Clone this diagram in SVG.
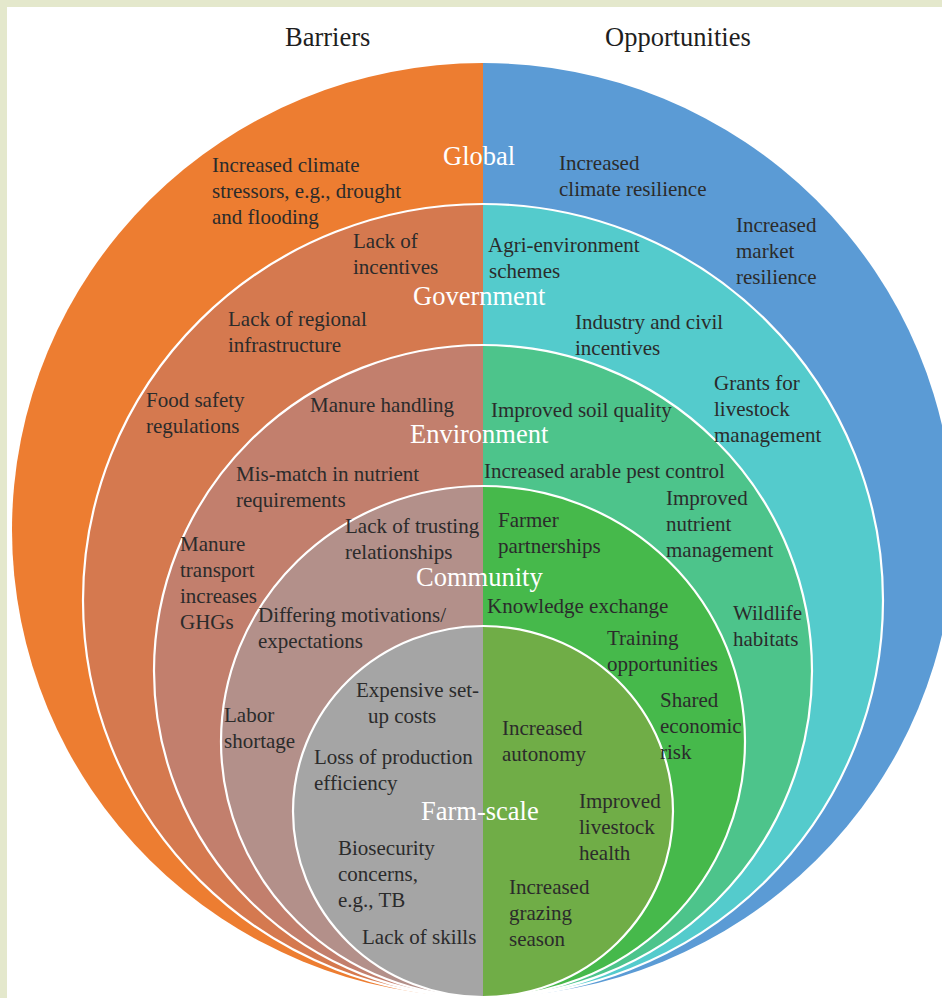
<svg xmlns="http://www.w3.org/2000/svg" width="942" height="998" viewBox="0 0 942 998">
<style>
.t{font-family:"Liberation Serif","Times New Roman",serif;font-size:21px;fill:#2b2b2b}
.h{font-family:"Liberation Serif","Times New Roman",serif;font-size:26.5px;fill:#1e1e1e}
.w{font-family:"Liberation Serif","Times New Roman",serif;font-size:26.5px;fill:#ffffff}
.ring{stroke:#ffffff;stroke-width:2.2}
</style>
<defs>
<clipPath id="L"><rect x="0" y="0" width="483" height="998"/></clipPath>
<clipPath id="R"><rect x="483" y="0" width="459" height="998"/></clipPath>
</defs>
<rect x="0" y="0" width="942" height="998" fill="#E4E8CC"/>
<rect x="7" y="7" width="935" height="991" fill="#ffffff"/>
<g id="headers">
<text class="h" x="285" y="46">Barriers</text>
<text class="h" x="605" y="46">Opportunities</text>
</g>
<g id="global">
<ellipse cx="483" cy="530" rx="471" ry="467" fill="#ED7D31" clip-path="url(#L)"/>
<ellipse cx="483" cy="530" rx="471" ry="467" fill="#5B9BD5" clip-path="url(#R)"/>
</g>
<g id="government">
<ellipse cx="483" cy="600.5" rx="400" ry="396.5" fill="#D5794F" clip-path="url(#L)"/>
<ellipse cx="483" cy="600.5" rx="400" ry="396.5" fill="#54CBCC" clip-path="url(#R)"/>
<ellipse class="ring" cx="483" cy="600.5" rx="400" ry="396.5" fill="none"/>
</g>
<g id="environment">
<ellipse cx="483" cy="671" rx="329" ry="326" fill="#C27F6D" clip-path="url(#L)"/>
<ellipse cx="483" cy="671" rx="329" ry="326" fill="#4DC48B" clip-path="url(#R)"/>
<ellipse class="ring" cx="483" cy="671" rx="329" ry="326" fill="none"/>
</g>
<g id="community">
<ellipse cx="483" cy="741.5" rx="262" ry="255.5" fill="#B3908A" clip-path="url(#L)"/>
<ellipse cx="483" cy="741.5" rx="262" ry="255.5" fill="#46B94B" clip-path="url(#R)"/>
<ellipse class="ring" cx="483" cy="741.5" rx="262" ry="255.5" fill="none"/>
</g>
<g id="farm">
<ellipse cx="483" cy="811.5" rx="190" ry="185.5" fill="#A5A5A5" clip-path="url(#L)"/>
<ellipse cx="483" cy="811.5" rx="190" ry="185.5" fill="#70AD47" clip-path="url(#R)"/>
<ellipse class="ring" cx="483" cy="811.5" rx="190" ry="185.5" fill="none"/>
</g>
<g id="level-labels">
<text class="w" x="443" y="165">Global</text>
<text class="w" x="413" y="305">Government</text>
<text class="w" x="410" y="443">Environment</text>
<text class="w" x="416" y="586">Community</text>
<text class="w" x="421" y="820">Farm-scale</text>
</g>
<g id="barriers">
<text class="t" x="212" y="172">Increased climate</text>
<text class="t" x="212" y="198">stressors, e.g., drought</text>
<text class="t" x="212" y="224">and flooding</text>
<text class="t" x="353" y="248">Lack of</text>
<text class="t" x="353" y="274">incentives</text>
<text class="t" x="228" y="326">Lack of regional</text>
<text class="t" x="228" y="352">infrastructure</text>
<text class="t" x="146" y="407">Food safety</text>
<text class="t" x="146" y="433">regulations</text>
<text class="t" x="310" y="412">Manure handling</text>
<text class="t" x="236" y="481">Mis-match in nutrient</text>
<text class="t" x="236" y="507">requirements</text>
<text class="t" x="180" y="551">Manure</text>
<text class="t" x="180" y="577">transport</text>
<text class="t" x="180" y="603">increases</text>
<text class="t" x="180" y="629">GHGs</text>
<text class="t" x="345" y="533">Lack of trusting</text>
<text class="t" x="345" y="559">relationships</text>
<text class="t" x="258" y="622">Differing motivations/</text>
<text class="t" x="258" y="648">expectations</text>
<text class="t" x="224" y="722">Labor</text>
<text class="t" x="224" y="748">shortage</text>
<text class="t" x="356" y="697">Expensive set-</text>
<text class="t" x="368" y="723">up costs</text>
<text class="t" x="314" y="764">Loss of production</text>
<text class="t" x="314" y="790">efficiency</text>
<text class="t" x="338" y="855">Biosecurity</text>
<text class="t" x="338" y="881">concerns,</text>
<text class="t" x="338" y="907">e.g., TB</text>
<text class="t" x="362" y="944">Lack of skills</text>
</g>
<g id="opportunities">
<text class="t" x="559" y="170">Increased</text>
<text class="t" x="559" y="196">climate resilience</text>
<text class="t" x="736" y="232">Increased</text>
<text class="t" x="736" y="258">market</text>
<text class="t" x="736" y="284">resilience</text>
<text class="t" x="488" y="252">Agri-environment</text>
<text class="t" x="489" y="278">schemes</text>
<text class="t" x="575" y="329">Industry and civil</text>
<text class="t" x="575" y="355">incentives</text>
<text class="t" x="714" y="390">Grants for</text>
<text class="t" x="714" y="416">livestock</text>
<text class="t" x="714" y="442">management</text>
<text class="t" x="491" y="417">Improved soil quality</text>
<text class="t" x="484" y="478">Increased arable pest control</text>
<text class="t" x="666" y="505">Improved</text>
<text class="t" x="666" y="531">nutrient</text>
<text class="t" x="666" y="557">management</text>
<text class="t" x="733" y="620">Wildlife</text>
<text class="t" x="733" y="646">habitats</text>
<text class="t" x="498" y="527">Farmer</text>
<text class="t" x="498" y="553">partnerships</text>
<text class="t" x="487" y="613">Knowledge exchange</text>
<text class="t" x="607" y="645">Training</text>
<text class="t" x="607" y="671">opportunities</text>
<text class="t" x="660" y="707">Shared</text>
<text class="t" x="660" y="733">economic</text>
<text class="t" x="660" y="759">risk</text>
<text class="t" x="502" y="735">Increased</text>
<text class="t" x="502" y="761">autonomy</text>
<text class="t" x="579" y="808">Improved</text>
<text class="t" x="579" y="834">livestock</text>
<text class="t" x="579" y="860">health</text>
<text class="t" x="509" y="894">Increased</text>
<text class="t" x="509" y="920">grazing</text>
<text class="t" x="509" y="946">season</text>
</g>
</svg>
